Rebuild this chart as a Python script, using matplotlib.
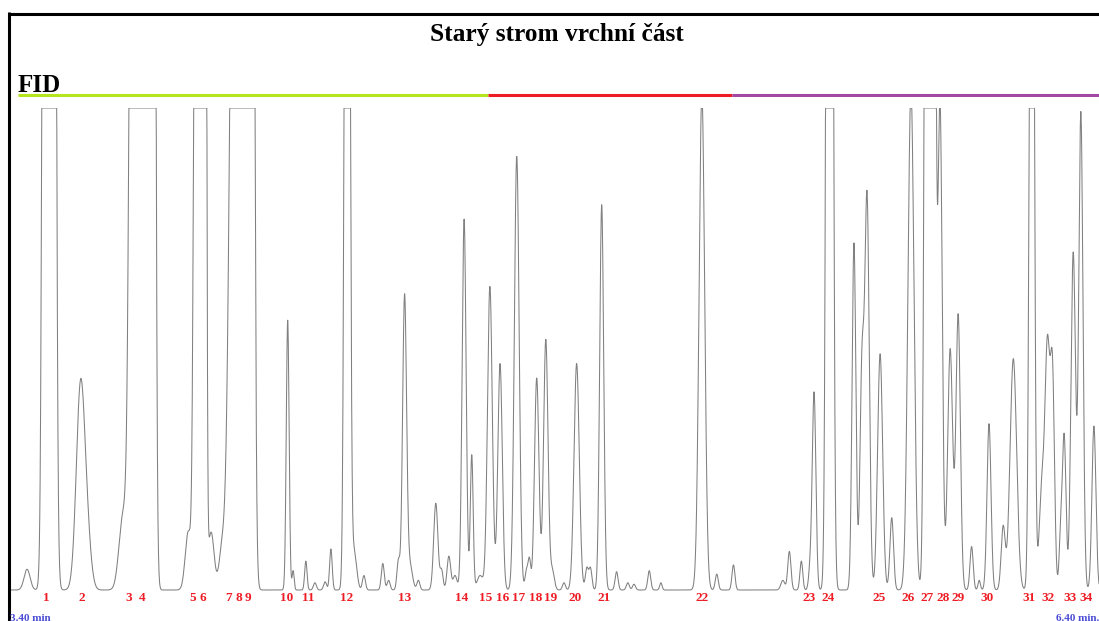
import numpy as np
import matplotlib
matplotlib.use('Agg')
import matplotlib.pyplot as plt
from matplotlib.transforms import blended_transform_factory
from matplotlib.lines import Line2D

title = 'Starý strom vrchní část'
detector = 'FID'
t_start, t_end = 3.40, 6.40
start_label, end_label = '3.40 min', '6.40 min.'

# peaks: retention time (min), height (% of full scale, >100 = off scale), sigma (min)
peak_rt = [3.447, 3.508, 3.594, 3.612, 3.711, 3.750, 3.786, 3.891, 3.918, 3.934,
           3.954, 3.984, 4.020, 4.042, 4.061, 4.165, 4.180, 4.215, 4.240, 4.268,
           4.284, 4.329, 4.348, 4.375, 4.427, 4.443, 4.470, 4.487, 4.502, 4.525,
           4.573, 4.589, 4.609, 4.626, 4.651, 4.672, 4.695, 4.722, 4.750, 4.796,
           4.823, 4.831, 4.851, 4.876, 4.894, 4.926, 4.961, 4.989, 4.999, 5.030,
           5.071, 5.102, 5.119, 5.161, 5.193, 5.306, 5.347, 5.393, 5.529, 5.547,
           5.580, 5.604, 5.615, 5.658, 5.725, 5.747, 5.761, 5.797, 5.829, 5.882,
           5.929, 5.943, 5.962, 5.990, 6.012, 6.049, 6.070, 6.097, 6.136, 6.164,
           6.215, 6.242, 6.258, 6.272, 6.294, 6.304, 6.329, 6.350, 6.386]
peak_height = [4.3, 3000, 41, 10, 15, 800, 2000, 12, 500, 800,
               12, 8, 200, 500, 800, 56, 4, 6, 1.5, 1.7,
               8.5, 400, 8, 3, 5.5, 2, 6, 61, 5, 2,
               18, 4, 7, 3, 77, 28, 3, 63, 47, 90,
               4, 6, 44, 52, 4, 1.5, 47, 4.5, 4.5, 80,
               3.8, 1.5, 1.2, 4, 1.5, 103, 3.3, 5.2, 2, 8,
               6, 4, 41, 600, 72, 45, 81, 49, 15, 104,
               500, 300, 101, 50, 57, 9, 2, 34.5, 13, 48,
               250, 20, 50, 42, 10, 32, 70, 99, 34]
peak_sigma = [0.0083, 0.0080, 0.0116, 0.0110, 0.0110, 0.0110, 0.0069, 0.0083, 0.0069, 0.0041,
              0.0083, 0.0083, 0.0124, 0.0110, 0.0069, 0.0039, 0.0028, 0.0033, 0.0041, 0.0041,
              0.0036, 0.0055, 0.0069, 0.0041, 0.0041, 0.0041, 0.0041, 0.0055, 0.0069, 0.0041,
              0.0058, 0.0041, 0.0050, 0.0055, 0.0055, 0.0039, 0.0083, 0.0066, 0.0061, 0.0066,
              0.0041, 0.0036, 0.0061, 0.0061, 0.0055, 0.0041, 0.0072, 0.0041, 0.0041, 0.0055,
              0.0041, 0.0041, 0.0041, 0.0041, 0.0033, 0.0077, 0.0041, 0.0041, 0.0055, 0.0044,
              0.0039, 0.0041, 0.0050, 0.0061, 0.0052, 0.0055, 0.0061, 0.0069, 0.0050, 0.0083,
              0.0063, 0.0055, 0.0061, 0.0069, 0.0061, 0.0044, 0.0033, 0.0055, 0.0055, 0.0091,
              0.0055, 0.0069, 0.0069, 0.0055, 0.0041, 0.0050, 0.0063, 0.0058, 0.0055]

label_text = [str(i) for i in range(1, 35)]
label_rt = [3.501, 3.598, 3.728, 3.764, 3.904, 3.931, 4.003, 4.030, 4.056, 4.162,
            4.221, 4.327, 4.487, 4.643, 4.711, 4.756, 4.802, 4.848, 4.888, 4.957,
            5.036, 5.308, 5.601, 5.653, 5.794, 5.873, 5.926, 5.970, 6.013, 6.093,
            6.207, 6.260, 6.321, 6.364]

segment_edges = [3.421, 4.717, 5.390, 6.40]
segment_colors = ['#b5e61d', '#ed1c24', '#a349a4']

W, H = 1099, 621
fig = plt.figure(figsize=(W / 100, H / 100), dpi=100)
serif = ['Liberation Serif', 'DejaVu Serif']

# trace axes: x 10..1099 px, full scale (100) at y=108 px, zero at y=590 px
ax = fig.add_axes([10 / W, (H - 600) / H, 1089 / W, 492 / H])
ax.set_xlim(t_start, t_end)
ax.set_ylim(-10 / 4.82, 100)
ax.axis('off')

t = np.linspace(t_start, t_end, 6000)
signal = np.zeros_like(t)
for rt, h, s in zip(peak_rt, peak_height, peak_sigma):
    signal += h * np.exp(-0.5 * ((t - rt) / s) ** 2)
signal = np.minimum(signal, 100)
ax.plot(t, signal, color='#808080', lw=0.75)

xfig = blended_transform_factory(ax.transData, fig.transFigure)
for a, b, c in zip(segment_edges[:-1], segment_edges[1:], segment_colors):
    ax.plot([a, b], [1 - 94.5 / H] * 2, color=c, lw=2.2, transform=xfig,
            clip_on=False, solid_capstyle='butt')

for txt, rt in zip(label_text, label_rt):
    ax.text(rt, 1 - 598 / H, txt, transform=xfig, ha='center', va='center',
            color='#ee1c24', fontsize=9.5, fontweight='bold', family=serif)

fig.text(557 / W, 1 - 34 / H, title, ha='center', va='center', fontsize=18.3,
         fontweight='bold', family=serif)
fig.text(18 / W, 1 - 92 / H, detector, ha='left', va='baseline', fontsize=18,
         fontweight='bold', family=serif)
fig.text(10 / W, 1 - 614 / H, start_label, ha='left', va='top', fontsize=8,
         fontweight='bold', family=serif, color='#4b4bd6')
fig.text(1099 / W, 1 - 614 / H, end_label, ha='right', va='top', fontsize=8,
         fontweight='bold', family=serif, color='#4b4bd6')

# frame: top and left border
fig.add_artist(Line2D([7.5 / W, 1], [1 - 13.5 / H] * 2, transform=fig.transFigure,
                      color='black', lw=2.2, solid_capstyle='butt'))
fig.add_artist(Line2D([9 / W] * 2, [0, 1 - 12 / H], transform=fig.transFigure,
                      color='black', lw=2.2, solid_capstyle='butt'))

fig.savefig('out.png', dpi=100)
